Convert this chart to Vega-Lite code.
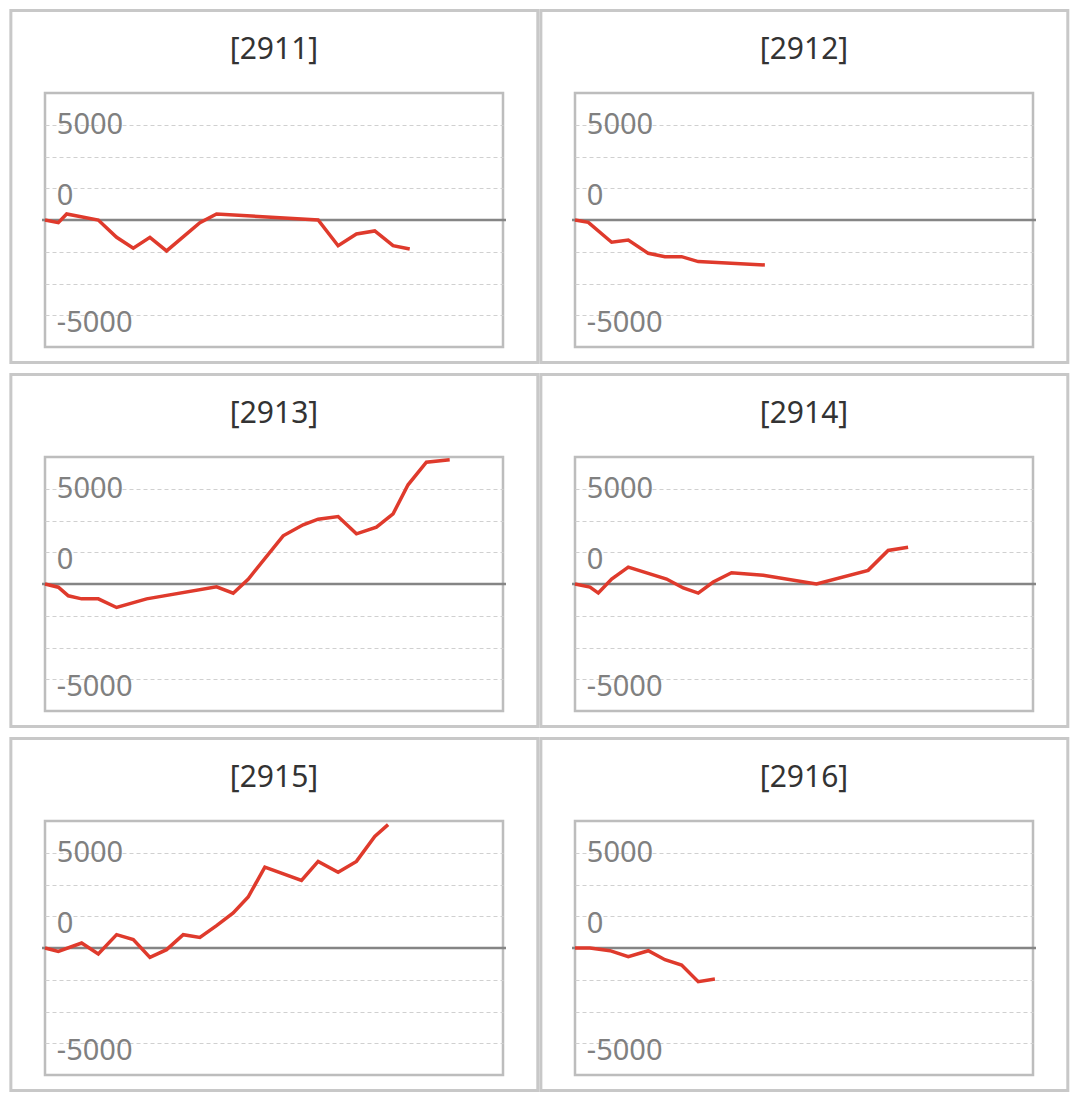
{
  "$schema": "https://vega.github.io/schema/vega-lite/v6.json",
  "padding": {"left": 8, "top": 6, "right": 0, "bottom": 0},
  "background": "white",
  "config": {
    "font": "Noto Sans",
    "view": {"stroke": "#bdbdbd", "strokeWidth": 2.5}
  },
  "data": {
    "values": [
      {"code": "[2911]", "day": 0, "pnl": 0},
      {"code": "[2911]", "day": 0.8, "pnl": -170},
      {"code": "[2911]", "day": 1.3, "pnl": 380},
      {"code": "[2911]", "day": 3.2, "pnl": 0},
      {"code": "[2911]", "day": 4.3, "pnl": -1090},
      {"code": "[2911]", "day": 5.3, "pnl": -1780},
      {"code": "[2911]", "day": 6.3, "pnl": -1090},
      {"code": "[2911]", "day": 7.3, "pnl": -1950},
      {"code": "[2911]", "day": 9.3, "pnl": -170},
      {"code": "[2911]", "day": 10.3, "pnl": 380},
      {"code": "[2911]", "day": 16.4, "pnl": 0},
      {"code": "[2911]", "day": 17.6, "pnl": -1620},
      {"code": "[2911]", "day": 18.7, "pnl": -880},
      {"code": "[2911]", "day": 19.8, "pnl": -690},
      {"code": "[2911]", "day": 20.9, "pnl": -1620},
      {"code": "[2911]", "day": 21.9, "pnl": -1830},

      {"code": "[2912]", "day": 0, "pnl": 0},
      {"code": "[2912]", "day": 0.8, "pnl": -150},
      {"code": "[2912]", "day": 2.2, "pnl": -1400},
      {"code": "[2912]", "day": 3.2, "pnl": -1260},
      {"code": "[2912]", "day": 4.4, "pnl": -2100},
      {"code": "[2912]", "day": 5.4, "pnl": -2310},
      {"code": "[2912]", "day": 6.4, "pnl": -2310},
      {"code": "[2912]", "day": 7.4, "pnl": -2620},
      {"code": "[2912]", "day": 11.4, "pnl": -2830},

      {"code": "[2913]", "day": 0, "pnl": 0},
      {"code": "[2913]", "day": 0.8, "pnl": -200},
      {"code": "[2913]", "day": 1.4, "pnl": -745},
      {"code": "[2913]", "day": 2.2, "pnl": -935},
      {"code": "[2913]", "day": 3.2, "pnl": -935},
      {"code": "[2913]", "day": 4.3, "pnl": -1480},
      {"code": "[2913]", "day": 6.1, "pnl": -935},
      {"code": "[2913]", "day": 10.3, "pnl": -175},
      {"code": "[2913]", "day": 11.3, "pnl": -580},
      {"code": "[2913]", "day": 12.2, "pnl": 300},
      {"code": "[2913]", "day": 14.3, "pnl": 3035},
      {"code": "[2913]", "day": 15.5, "pnl": 3730},
      {"code": "[2913]", "day": 16.4, "pnl": 4085},
      {"code": "[2913]", "day": 17.6, "pnl": 4250},
      {"code": "[2913]", "day": 18.7, "pnl": 3160},
      {"code": "[2913]", "day": 19.9, "pnl": 3580},
      {"code": "[2913]", "day": 20.9, "pnl": 4420},
      {"code": "[2913]", "day": 21.8, "pnl": 6250},
      {"code": "[2913]", "day": 22.9, "pnl": 7675},
      {"code": "[2913]", "day": 24.3, "pnl": 7825},

      {"code": "[2914]", "day": 0, "pnl": 0},
      {"code": "[2914]", "day": 0.9, "pnl": -190},
      {"code": "[2914]", "day": 1.4, "pnl": -570},
      {"code": "[2914]", "day": 2.2, "pnl": 315},
      {"code": "[2914]", "day": 3.2, "pnl": 1060},
      {"code": "[2914]", "day": 5.5, "pnl": 315},
      {"code": "[2914]", "day": 6.5, "pnl": -250},
      {"code": "[2914]", "day": 7.4, "pnl": -570},
      {"code": "[2914]", "day": 8.3, "pnl": 125},
      {"code": "[2914]", "day": 9.4, "pnl": 705},
      {"code": "[2914]", "day": 11.3, "pnl": 555},
      {"code": "[2914]", "day": 14.5, "pnl": 0},
      {"code": "[2914]", "day": 17.6, "pnl": 860},
      {"code": "[2914]", "day": 18.8, "pnl": 2110},
      {"code": "[2914]", "day": 20.0, "pnl": 2320},

      {"code": "[2915]", "day": 0, "pnl": 0},
      {"code": "[2915]", "day": 0.8, "pnl": -215},
      {"code": "[2915]", "day": 2.2, "pnl": 315},
      {"code": "[2915]", "day": 3.2, "pnl": -380},
      {"code": "[2915]", "day": 4.3, "pnl": 840},
      {"code": "[2915]", "day": 5.3, "pnl": 525},
      {"code": "[2915]", "day": 6.3, "pnl": -590},
      {"code": "[2915]", "day": 7.3, "pnl": -105},
      {"code": "[2915]", "day": 8.3, "pnl": 840},
      {"code": "[2915]", "day": 9.3, "pnl": 670},
      {"code": "[2915]", "day": 10.3, "pnl": 1405},
      {"code": "[2915]", "day": 11.3, "pnl": 2205},
      {"code": "[2915]", "day": 12.2, "pnl": 3210},
      {"code": "[2915]", "day": 13.2, "pnl": 5100},
      {"code": "[2915]", "day": 15.4, "pnl": 4260},
      {"code": "[2915]", "day": 16.4, "pnl": 5455},
      {"code": "[2915]", "day": 17.6, "pnl": 4765},
      {"code": "[2915]", "day": 18.7, "pnl": 5455},
      {"code": "[2915]", "day": 19.8, "pnl": 7030},
      {"code": "[2915]", "day": 20.6, "pnl": 7770},

      {"code": "[2916]", "day": 0, "pnl": 0},
      {"code": "[2916]", "day": 0.9, "pnl": 0},
      {"code": "[2916]", "day": 2.1, "pnl": -170},
      {"code": "[2916]", "day": 3.2, "pnl": -545},
      {"code": "[2916]", "day": 4.4, "pnl": -170},
      {"code": "[2916]", "day": 5.4, "pnl": -735},
      {"code": "[2916]", "day": 6.4, "pnl": -1070},
      {"code": "[2916]", "day": 7.4, "pnl": -2120},
      {"code": "[2916]", "day": 8.4, "pnl": -1955}
    ]
  },
  "facet": {
    "field": "code",
    "type": "nominal",
    "header": {"title": null, "labels": false, "labelExpr": "''", "labelFontSize": 1, "labelPadding": 0}
  },
  "columns": 2,
  "bounds": "flush",
  "spacing": {"row": 110, "column": 72},
  "resolve": {"axis": {"y": "independent"}},
  "spec": {
    "width": 458,
    "height": 254,
    "encoding": {
      "x": {"field": "day", "type": "quantitative", "scale": {"domain": [0, 27.5], "nice": false, "zero": false}, "axis": null},
      "y": {
        "field": "pnl",
        "type": "quantitative",
        "scale": {"domain": [-8000, 8000], "nice": false},
        "axis": {
          "title": null,
          "values": [-6000, -4000, -2000, 2000, 4000, 6000],
          "labelExpr": "datum.value == 6000 ? '5000' : datum.value == 2000 ? '0' : datum.value == -6000 ? '-5000' : ''",
          "domain": false,
          "ticks": false,
          "tickSize": 0,
          "labelAlign": "left",
          "labelBaseline": "alphabetic",
          "labelPadding": -11.3,
          "labelOffset": {"condition": {"test": "datum.value == 6000", "value": 8.7}, "value": 16},
          "labelFont": "Noto Sans",
          "labelFontSize": 29,
          "labelColor": "#808080",
          "labelOverlap": false,
          "labelFlush": false,
          "labelBound": false,
          "grid": true,
          "gridColor": "#d0d0d0",
          "gridDash": [4, 3],
          "gridWidth": 1
        }
      }
    },
    "layer": [
      {
        "transform": [{"filter": "datum.day == 0"}],
        "mark": {"type": "rect", "fill": null, "stroke": "#c8c8c8", "strokeWidth": 3},
        "encoding": {
          "x": {"datum": -2.05},
          "x2": {"datum": 29.59},
          "y": {"datum": 13197},
          "y2": {"datum": -8976}
        }
      },
      {
        "transform": [{"filter": "datum.day == 0"}],
        "mark": {"type": "text", "align": "center", "baseline": "alphabetic", "fontSize": 30, "color": "#333333", "font": "Noto Sans"},
        "encoding": {
          "x": {"datum": 13.75},
          "y": {"datum": 10170},
          "text": {"field": "code"}
        }
      },
      {
        "transform": [{"filter": "datum.day == 0"}],
        "mark": {"type": "rule", "color": "#858585", "strokeWidth": 2.5},
        "encoding": {
          "x": {"datum": -0.18},
          "x2": {"datum": 27.68},
          "y": {"datum": 0}
        }
      },
      {
        "mark": {"type": "line", "color": "#df3a2c", "strokeWidth": 3.5},
        "encoding": {}
      }
    ]
  }
}
